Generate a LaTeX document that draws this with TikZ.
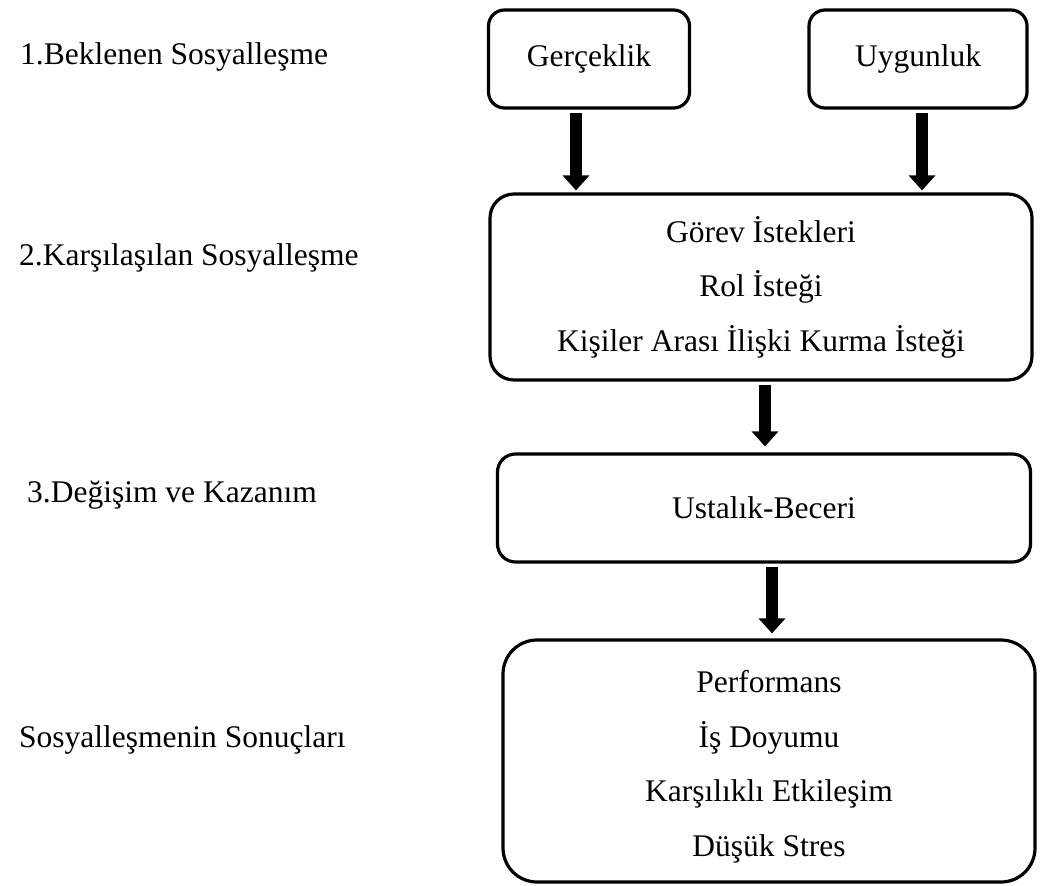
\documentclass[tikz,border=0pt]{standalone}
\usepackage{fontspec}
\setmainfont{Liberation Serif}
\usetikzlibrary{arrows.meta, positioning}

\begin{document}
\begin{tikzpicture}[x=1pt, y=-1pt, font=\fontsize{31.5}{54.5}\selectfont,
  kutu/.style={draw, line width=3.2pt, rounded corners=#1, align=center, inner sep=0pt},
  kutu/.default=16pt,
  ok/.style={line width=12pt, -{Triangle[width=26pt,length=15pt]}, shorten <=3pt},
  evre/.style={anchor=west, inner sep=0pt}]

  \useasboundingbox (0,0) rectangle (1040,885);

  % Evreler (sol sutun)
  \foreach \x/\y/\metin [count=\i] in {20/57/1.Beklenen Sosyalleşme, 19/258/2.Karşılaşılan Sosyalleşme,
      27/495/3.Değişim ve Kazanım, 19/740/Sosyalleşmenin Sonuçları} {
    \node[evre] (evre\i) at (\x,\y) {\metin};
  }

  % Kutular
  \node[kutu, minimum width=201pt, minimum height=98pt] (ger) at (589,59) {Gerçeklik};
  \node[kutu, minimum width=218pt, minimum height=98pt] (uyg) at (918,59) {Uygunluk};
  \node[kutu=24pt, minimum width=542pt, minimum height=186pt] (gor) at (761,287)
    {Görev İstekleri\\Rol İsteği\\Kişiler Arası İlişki Kurma İsteği};
  \node[kutu=18pt, minimum width=533pt, minimum height=108pt] (ust) at (764,508) {Ustalık-Beceri};
  \node[kutu=34pt, minimum width=532pt, minimum height=242pt] (son) at (769,761) {};
  \node[align=center, inner sep=0pt] (sonT) at ([yshift=-6pt]son.center)
    {Performans\\İş Doyumu\\Karşılıklı Etkileşim\\Düşük Stres};

  % Oklar
  \draw[ok, shorten >=2pt] ([xshift=-13pt]ger.south) -- ([xshift=-13pt]ger.south |- gor.north);
  \draw[ok, shorten >=2pt] ([xshift=4pt]uyg.south) -- ([xshift=4pt]uyg.south |- gor.north);
  \draw[ok, shorten >=6pt] ([xshift=4pt]gor.south) -- ([xshift=4pt]gor.south |- ust.north);
  \draw[ok, shorten >=5pt] ([xshift=8pt]ust.south) -- ([xshift=8pt]ust.south |- son.north);
\end{tikzpicture}
\end{document}
